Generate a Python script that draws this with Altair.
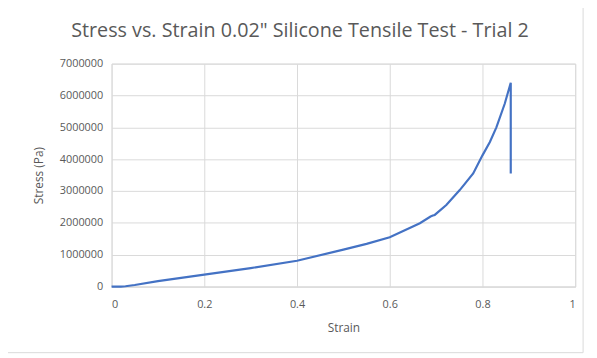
import altair as alt
import pandas as pd

strain = [0.0, 0.02, 0.03, 0.05, 0.1, 0.2, 0.3, 0.4, 0.5, 0.55, 0.6, 0.665, 0.688, 0.693, 0.697,
          0.722, 0.751, 0.78, 0.8, 0.816, 0.83, 0.848, 0.861, 0.861]
stress = [0, 0, 10000, 50000, 170000, 375000, 580000, 810000, 1160000, 1340000, 1550000, 1990000,
          2200000, 2230000, 2250000, 2560000, 3030000, 3550000, 4120000, 4540000, 5000000,
          5740000, 6400000, 3550000]

df = pd.DataFrame({"Strain": strain, "Stress": stress, "order": list(range(len(strain)))})

line = alt.Chart(df).mark_line(color="#4472C4", strokeWidth=2.2).encode(
    x=alt.X("Strain:Q", scale=alt.Scale(domain=[0, 1], nice=False),
            axis=alt.Axis(values=[0, 0.2, 0.4, 0.6, 0.8, 1], title="Strain", format="~g")),
    y=alt.Y("Stress:Q", scale=alt.Scale(domain=[0, 7000000], nice=False),
            axis=alt.Axis(values=[0, 1000000, 2000000, 3000000, 4000000, 5000000, 6000000, 7000000],
                          title="Stress (Pa)", format="d")),
    order="order:Q",
)

border = alt.Chart(df).mark_rect(filled=False, stroke="#d9d9d9", strokeWidth=1).encode(
    x=alt.value(-110), x2=alt.value(478), y=alt.value(-60), y2=alt.value(293)
).transform_filter("datum.order == 0")

chart = alt.layer(border, line).properties(
    width=470, height=226,
    title=alt.TitleParams('Stress vs. Strain 0.02" Silicone Tensile Test - Trial 2',
                          fontSize=20, font="Open Sans", fontWeight="normal", color="#595959",
                          anchor="middle", offset=-37, dx=-44),
    autosize=alt.AutoSizeParams(type="none"),
    padding={"left": 105, "top": 54, "right": 14, "bottom": 70},
    background="white",
).configure_view(stroke="#d9d9d9", strokeWidth=1).configure_axis(
    gridColor="#d9d9d9", domain=False, ticks=False, labelColor="#595959", titleColor="#595959",
    labelFont="Open Sans", titleFont="Open Sans", labelFontSize=11, titleFontSize=12,
    titleFontWeight="normal",
).configure_axisX(domain=True, domainColor="#d9d9d9", labelPadding=12, titlePadding=14).configure_axisY(
    labelPadding=9, titlePadding=14
)

chart.save("out.html", embed_options={"renderer": "svg", "actions": False})
